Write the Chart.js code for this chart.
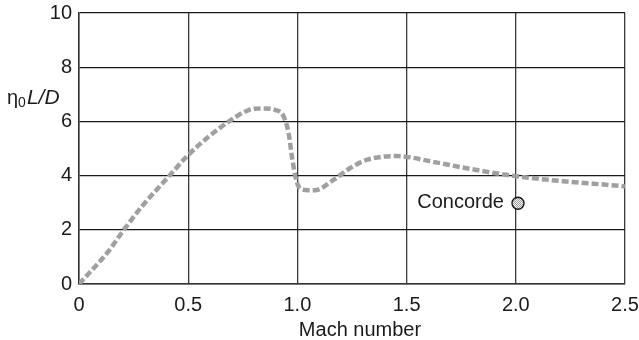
<!DOCTYPE html>
<html>
<head>
<meta charset="utf-8">
<script src="https://cdn.jsdelivr.net/npm/chart.js@4/dist/chart.umd.min.js"></script>
<style>
  html, body { margin: 0; padding: 0; background: #fff; }
  #wrap { width: 639px; height: 340px; position: relative; }
</style>
</head>
<body>
<div id="wrap"><canvas id="c" width="639" height="340"></canvas></div>
<script>
// ---- Data ----
const machNumbers = [0, 0.134, 0.21, 0.287, 0.41, 0.5, 0.593, 0.685, 0.777, 0.838, 0.9, 0.937, 0.96, 0.975, 0.991, 1.006, 1.037, 1.08, 1.165, 1.24, 1.317, 1.455, 1.62, 1.775, 1.99, 2.233, 2.477, 2.5];
const etaLD       = [0, 1.2, 2.05, 2.85, 3.96, 4.76, 5.43, 5.99, 6.42, 6.48, 6.42, 6.18, 5.56, 4.7, 3.96, 3.59, 3.47, 3.46, 3.84, 4.27, 4.58, 4.72, 4.51, 4.27, 3.99, 3.78, 3.62, 3.6];
const concordeMach = [2.01];
const concordeLD   = [2.98];
const concordeLabel = 'Concorde';
const xTicks = [0, 0.5, 1.0, 1.5, 2.0, 2.5];
const xTickLabels = ['0', '0.5', '1.0', '1.5', '2.0', '2.5'];
const yTicks = [0, 2, 4, 6, 8, 10];
const xTitle = 'Mach number';

const FONT = '"Liberation Sans", Arial, Helvetica, sans-serif';

// checkered fill for the Concorde marker
const pc = document.createElement('canvas');
pc.width = 2; pc.height = 2;
const pctx = pc.getContext('2d');
pctx.fillStyle = '#f2f2f2'; pctx.fillRect(0, 0, 2, 2);
pctx.fillStyle = '#a0a0a0'; pctx.fillRect(0, 0, 1, 1); pctx.fillRect(1, 1, 1, 1);
const ctx = document.getElementById('c').getContext('2d');
const checker = ctx.createPattern(pc, 'repeat');

const curve = machNumbers.map((x, i) => ({ x: x, y: etaLD[i] }));
const concorde = concordeMach.map((x, i) => ({ x: x, y: concordeLD[i] }));

const annotate = {
  id: 'annotate',
  afterDraw(chart) {
    const c = chart.ctx;
    const xs = chart.scales.x, ys = chart.scales.y;
    c.save();
    c.fillStyle = '#1a1a1a';
    // Concorde label
    c.font = '20px ' + FONT;
    c.textAlign = 'right';
    c.textBaseline = 'middle';
    c.fillText(concordeLabel, xs.getPixelForValue(concordeMach[0]) - 14, ys.getPixelForValue(concordeLD[0]) - 1);
    // x title
    c.textAlign = 'center';
    c.textBaseline = 'alphabetic';
    c.fillText(xTitle, 360, 336);
    // y title: η0 L/D
    c.textAlign = 'left';
    let x0 = 7, yb = 104;
    c.font = '20px ' + FONT;
    c.fillText('η', x0, yb);
    x0 += c.measureText('η').width;
    c.font = '14px ' + FONT;
    c.fillText('0', x0, yb + 3);
    x0 += c.measureText('0').width + 1;
    c.font = 'italic 21px ' + FONT;
    c.fillText('L/D', x0, yb);
    c.restore();
  }
};

function noPad(s) {
  s.paddingTop = 0; s.paddingBottom = 0; s.paddingLeft = 0; s.paddingRight = 0;
}

new Chart(ctx, {
  type: 'scatter',
  data: {
    datasets: [
      {
        data: curve,
        showLine: true,
        borderColor: '#a0a0a0',
        borderWidth: 4.5,
        borderDash: [7, 3],
        pointRadius: 0,
        tension: 0.4,
        cubicInterpolationMode: 'monotone',
        fill: false,
        order: 2
      },
      {
        data: concorde,
        showLine: false,
        pointRadius: 6,
        pointBackgroundColor: checker,
        pointBorderColor: '#111',
        pointBorderWidth: 1.3,
        order: 1
      }
    ]
  },
  options: {
    responsive: false,
    animation: false,
    devicePixelRatio: 1,
    layout: { padding: { top: 13, right: 14, left: 0, bottom: 0 } },
    plugins: { legend: { display: false }, tooltip: { enabled: false }, title: { display: false } },
    scales: {
      x: {
        type: 'linear',
        min: 0, max: 2.5,
        afterBuildTicks(s) { s.ticks = xTicks.map(v => ({ value: v })); },
        afterFit(s) { s.height = 56; noPad(s); },
        ticks: {
          padding: 9,
          color: '#1a1a1a',
          font: { size: 20, family: FONT },
          maxRotation: 0,
          callback: (v) => { const i = xTicks.indexOf(v); return i >= 0 ? xTickLabels[i] : ''; }
        },
        grid: { color: '#3a3a3a', lineWidth: 1.3, drawTicks: false },
        border: { color: '#333', width: 1.5 }
      },
      y: {
        min: 0, max: 10,
        afterBuildTicks(s) { s.ticks = yTicks.map(v => ({ value: v })); },
        afterFit(s) { s.width = 79; noPad(s); },
        ticks: {
          padding: 7,
          color: '#1a1a1a',
          font: { size: 20, family: FONT }
        },
        grid: { color: '#1a1a1a', lineWidth: 1.2, drawTicks: false },
        border: { color: '#333', width: 1.5 }
      }
    }
  },
  plugins: [annotate]
});
</script>
</body>
</html>
